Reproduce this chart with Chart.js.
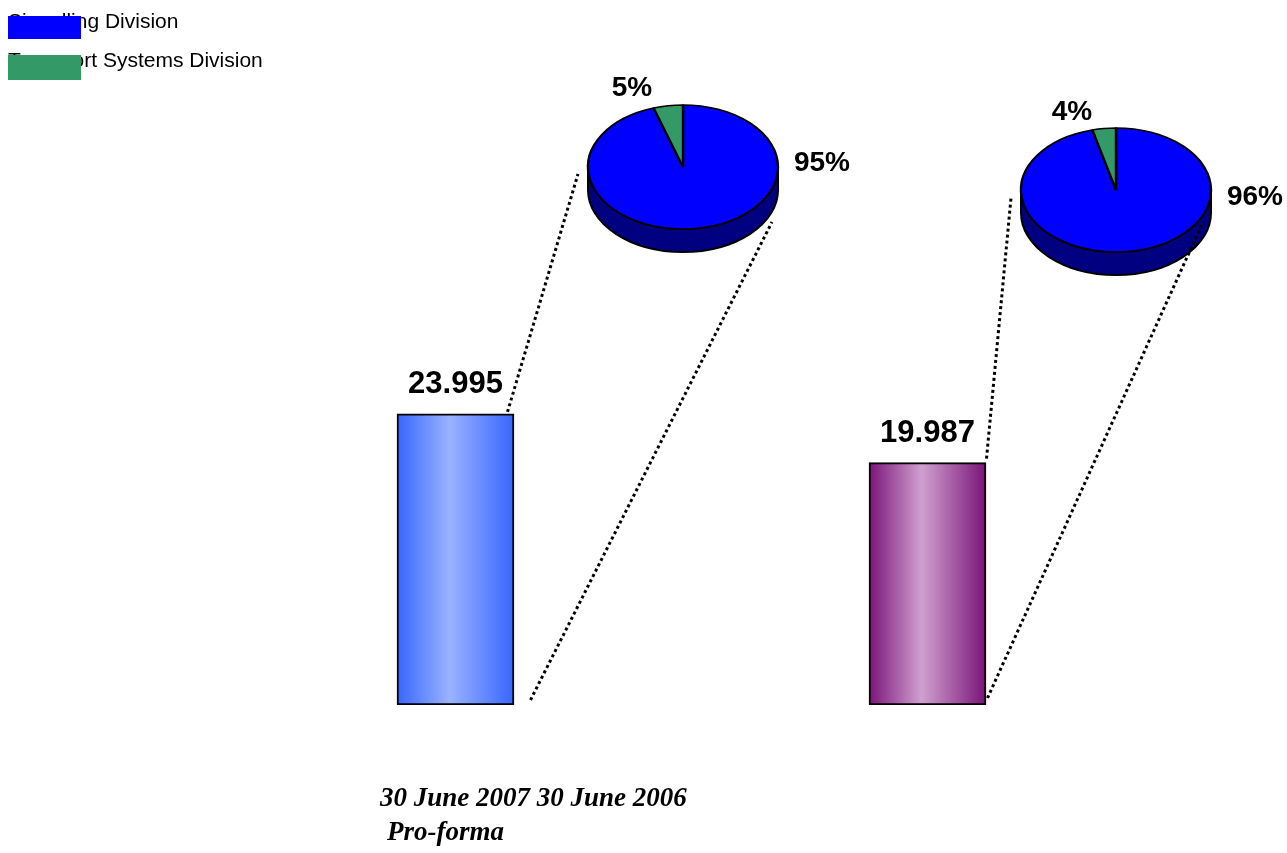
<!DOCTYPE html>
<html>
<head>
<meta charset="utf-8">
<script src="https://cdn.jsdelivr.net/npm/chart.js@4.4.0/dist/chart.umd.min.js"></script>
<style>
  html, body { margin: 0; padding: 0; background: #fff; overflow: hidden; }
  #wrap { position: relative; width: 1287px; height: 853px; overflow: hidden; }
  canvas { position: absolute; }
  #main { left: 0; top: 0; z-index: 2; }
</style>
</head>
<body>
<div id="wrap">
  <canvas id="pie1" width="360" height="260"></canvas>
  <canvas id="pie2" width="360" height="260"></canvas>
  <canvas id="main" width="1287" height="853"></canvas>
</div>
<script>
// data
const periods = ['30 June 2007', '30 June 2006'];
const periodNote = 'Pro-forma';
const totals = [23.995, 19.987];
const divisions = ['Signalling Division', 'Transport Systems Division'];
const share2007 = [95, 5];
const share2006 = [96, 4];

// look
const divisionColors = ['#0000ff', '#339966'];
const sideColor = '#000080';
const barColors = [['#3866ff', '#9ab2ff'], ['#7a1478', '#d0a0d0']];
const sansFont = '"Liberation Sans", Arial, sans-serif';
const serifFont = '"Liberation Serif", "Times New Roman", serif';
const pieCenters = [[683, 167], [1116, 190]];
const pieDepth = 23;
const pieTilt = 62 / 95;

// where the dotted lines start (from bar centre/top/base) and end (from pie centre)
const connectors = [
  { top: [52, -2], bottom: [75, -5], toTop: [-105, 7], toBottom: [89, 55] },
  { top: [59, -4], bottom: [60, -7], toTop: [-105, 8], toBottom: [87, 32] }
];

function barFill(ctx) {
  const chart = ctx.chart;
  const cols = barColors[ctx.dataIndex] || barColors[0];
  if (!chart.chartArea || ctx.type !== 'data') return cols[0];
  const x = chart.scales.x.getPixelForValue(ctx.dataIndex);
  const g = chart.ctx.createLinearGradient(x - 58.5, 0, x + 58.5, 0);
  g.addColorStop(0, cols[0]);
  g.addColorStop(0.45, cols[1]);
  g.addColorStop(1, cols[0]);
  return g;
}

const decorations = {
  id: 'decorations',
  afterDatasetsDraw(chart) {
    const c = chart.ctx;
    const bars = chart.getDatasetMeta(0).data;
    c.save();

    // value labels above bars
    c.fillStyle = '#000';
    c.font = 'bold 31px ' + sansFont;
    c.textAlign = 'center';
    c.textBaseline = 'alphabetic';
    bars.forEach((b, i) => c.fillText(totals[i].toFixed(3), b.x, b.y - 21));

    // dotted connectors to the pies
    c.strokeStyle = '#000';
    c.lineWidth = 3;
    c.setLineDash([3, 3]);
    bars.forEach((b, i) => {
      const k = connectors[i], [px, py] = pieCenters[i];
      c.beginPath();
      c.moveTo(b.x + k.top[0], b.y + k.top[1]);
      c.lineTo(px + k.toTop[0], py + k.toTop[1]);
      c.stroke();
      c.beginPath();
      c.moveTo(b.x + k.bottom[0], b.base + k.bottom[1]);
      c.lineTo(px + k.toBottom[0], py + k.toBottom[1]);
      c.stroke();
    });
    c.setLineDash([]);

    // category labels
    c.textAlign = 'left';
    c.font = 'italic bold 27px ' + serifFont;
    c.fillText(periods.join(' '), 380, 806);
    c.fillText(periodNote, 387, 840);

    // legend: text first, swatches drawn over it
    c.font = '21px ' + sansFont;
    c.fillText(divisions[0], 8, 28);
    c.fillText(divisions[1], 8, 67);
    c.fillStyle = divisionColors[0];
    c.fillRect(8, 16, 73, 23);
    c.fillStyle = divisionColors[1];
    c.fillRect(8, 55, 73, 25);
    c.restore();
  }
};

new Chart(document.getElementById('main'), {
  type: 'bar',
  data: {
    labels: periods,
    datasets: [{
      data: totals,
      backgroundColor: barFill,
      borderColor: '#000',
      borderWidth: 2,
      borderSkipped: false,
      barThickness: 117
    }]
  },
  options: {
    responsive: false,
    animation: false,
    devicePixelRatio: 1,
    layout: { padding: { left: 219.5, right: 123.5, top: 98.5, bottom: 148 } },
    scales: {
      x: { display: false },
      y: { display: false, min: 0, max: 50 }
    },
    plugins: { legend: { display: false }, tooltip: { enabled: false } }
  },
  plugins: [decorations]
});

// tilted pies with a dark side
function makePie(id, shares, center, labelOffsets) {
  const canvas = document.getElementById(id);
  canvas.style.left = (center[0] - 180) + 'px';
  canvas.style.top = (center[1] - 120) + 'px';
  const tilt = {
    id: 'tilt',
    beforeDatasetsDraw(chart) {
      const arc = chart.getDatasetMeta(0).data[0];
      const { x, y, outerRadius: r } = arc;
      const ry = r * pieTilt;
      const c = chart.ctx;
      c.save();
      c.fillStyle = sideColor;
      c.strokeStyle = '#000';
      c.lineWidth = 2;
      c.beginPath();
      c.ellipse(x, y + pieDepth, r, ry, 0, 0, Math.PI);
      c.lineTo(x - r, y);
      c.ellipse(x, y, r, ry, 0, Math.PI, 0, true);
      c.closePath();
      c.fill();
      c.stroke();
      c.translate(x, y);
      c.scale(1, pieTilt);
      c.translate(-x, -y);
    },
    afterDatasetsDraw(chart) {
      chart.ctx.restore();
    },
    afterDraw(chart) {
      const arc = chart.getDatasetMeta(0).data[0];
      const c = chart.ctx;
      c.save();
      c.fillStyle = '#000';
      c.font = 'bold 28px ' + sansFont;
      c.textAlign = 'center';
      c.textBaseline = 'middle';
      shares.forEach((v, i) => c.fillText(v + '%', arc.x + labelOffsets[i][0], arc.y + labelOffsets[i][1]));
      c.restore();
    }
  };
  new Chart(canvas, {
    type: 'pie',
    data: {
      labels: divisions,
      datasets: [{
        data: shares,
        backgroundColor: divisionColors,
        borderColor: '#000',
        borderWidth: 2.4,
        radius: 95
      }]
    },
    options: {
      responsive: false,
      animation: false,
      devicePixelRatio: 1,
      layout: { padding: { left: 80, right: 80, top: 20, bottom: 40 } },
      plugins: { legend: { display: false }, tooltip: { enabled: false } }
    },
    plugins: [tilt]
  });
}

makePie('pie1', share2007, pieCenters[0], [[139, -4], [-51, -79]]);
makePie('pie2', share2006, pieCenters[1], [[139, 7], [-44, -78]]);
</script>
</body>
</html>
